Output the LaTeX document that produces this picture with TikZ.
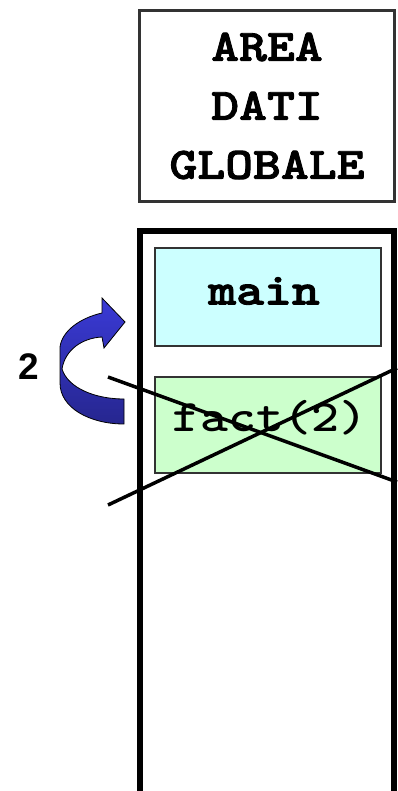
\documentclass[tikz,border=0pt]{standalone}
\usepackage{fontspec}
\newfontfamily\labelfont{Liberation Sans}
\newfontfamily\courfont{lmmonolt10-bold}[Extension=.otf, FakeStretch=1.18, FakeBold=2]
\newfontfamily\courregfont{lmmonolt10-bold}[Extension=.otf, FakeStretch=1.18]
\definecolor{boxline}{HTML}{333333}
\definecolor{maincol}{HTML}{CCFFFF}
\definecolor{factcol}{HTML}{CCFFCC}
\definecolor{arrtop}{HTML}{3A3AD6}
\definecolor{arrbot}{HTML}{26268F}
\newcommand{\courtext}[1]{{\courfont #1}}
\tikzset{
  frame/.style={draw=boxline, line width=2pt, inner sep=0pt, align=center},
  monotext/.style={font=\fontsize{45}{59}\selectfont},
  stackline/.style={line width=5.5pt, line cap=butt},
  crossline/.style={line width=3.5pt},
}
\begin{document}
\begin{tikzpicture}[x=1pt,y=-1pt]
\useasboundingbox (0,0) rectangle (397,791);
% global data area
\node[frame, line width=2.5pt, minimum width=255pt, minimum height=191pt, monotext] (glob) at (267,106) {\courtext{AREA}\\\courtext{DATI}\\\courtext{GLOBALE}};
% stack frame
\draw[stackline] (140,791) -- (140,231) -- (394,231) -- (394,791);
\node[frame, fill=maincol, minimum width=226pt, minimum height=98pt, monotext] (main) at (268,297) {};
\node[monotext] (maintext) at (264,291) {\courtext{main}};
\node[frame, fill=factcol, minimum width=226pt, minimum height=96pt, monotext] (fact) at (268,425) {};
\node[monotext] (facttext) at (270,418) {{\courregfont fact(2)}};
% return arrow
\draw[black, line width=0.8pt, top color=arrtop, bottom color=arrbot]
  (124,424) .. controls (90,424) and (60,408) .. (60,383) -- (60,347)
  .. controls (62,331) and (80,318) .. (102,313)
  -- (102,298) -- (125,322) -- (104,348) -- (102,337)
  .. controls (82,338) and (65,350) .. (62,369)
  .. controls (68,388) and (95,399) .. (124,399) -- cycle;
\node[font=\labelfont\bfseries\fontsize{37}{37}\selectfont] (two) at (29,367) {2};
% cross
\coordinate (c1) at (108,377);
\coordinate (c2) at (397,482);
\coordinate (c3) at (108,505);
\coordinate (c4) at (397,368);
\draw[crossline] (c1) -- (c2);
\draw[crossline] (c3) -- (c4);
\end{tikzpicture}
\end{document}
